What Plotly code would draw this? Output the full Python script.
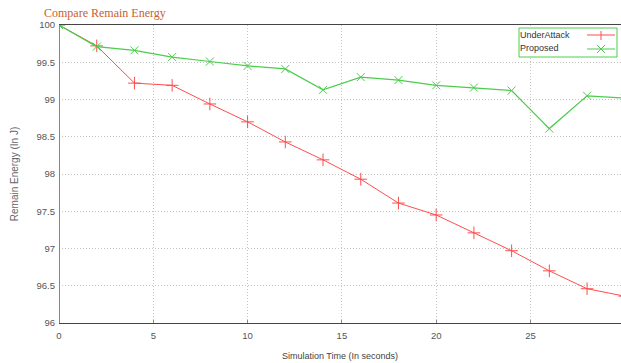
import plotly.graph_objects as go

time_s = [0, 2, 4, 6, 8, 10, 12, 14, 16, 18, 20, 22, 24, 26, 28, 30]
under_attack = [100.0, 99.72, 99.22, 99.19, 98.94, 98.70, 98.43, 98.19, 97.93, 97.61, 97.45, 97.21, 96.97, 96.70, 96.46, 96.36]
proposed = [100.0, 99.71, 99.66, 99.57, 99.51, 99.45, 99.41, 99.13, 99.30, 99.26, 99.19, 99.16, 99.12, 98.61, 99.05, 99.02]
x_ticks = [0, 5, 10, 15, 20, 25]
y_ticks = [96, 96.5, 97, 97.5, 98, 98.5, 99, 99.5, 100]

RED = "#ff4d4d"
GREEN = "#4ccc4c"
NARROW = "Liberation Sans Narrow, Arial Narrow, Liberation Sans, sans-serif"
TICKFONT = dict(family=NARROW, size=9.5, color="#555555")

W, H = 621, 363

fig = go.Figure()
fig.add_trace(go.Scatter(x=time_s, y=under_attack, mode="lines+markers", name="UnderAttack",
                         line=dict(color=RED, width=1),
                         marker=dict(symbol="cross-thin", size=9, line=dict(color=RED, width=1), color=RED)))
fig.add_trace(go.Scatter(x=time_s, y=proposed, mode="lines+markers", name="Proposed",
                         line=dict(color=GREEN, width=1.2),
                         marker=dict(symbol="x-thin", size=8, line=dict(color=GREEN, width=1), color=GREEN)))

fig.update_layout(
    width=W, height=H,
    margin=dict(l=59, r=0, t=25, b=40, autoexpand=False),
    paper_bgcolor="white", plot_bgcolor="white",
    showlegend=False,
    title=dict(text="Compare Remain Energy", x=44/W, xanchor="left", y=1 - 13/H, yanchor="middle",
               font=dict(family="Liberation Serif, Times New Roman, serif", size=12, color="#c8602f")),
)
fig.update_xaxes(range=[0, 29.8], tickvals=x_ticks, ticktext=[str(v) for v in x_ticks],
                 showgrid=True, gridcolor="#c4c4c4", griddash="1px,2px", gridwidth=1,
                 showline=True, linecolor="#444444", linewidth=1, mirror=True,
                 ticks="inside", ticklen=3, tickcolor="#888888", ticklabelstandoff=4,
                 zeroline=False, tickfont=TICKFONT, automargin=False,
                 title=dict(text="Simulation Time (In seconds)", standoff=12,
                            font=dict(family=NARROW, size=9, color="#444444")))
fig.update_yaxes(range=[96, 100], tickvals=y_ticks, ticktext=["96", "96.5", "97", "97.5", "98", "98.5", "99", "99.5", "100"],
                 showgrid=True, gridcolor="#c4c4c4", griddash="1px,2px", gridwidth=1,
                 showline=False, zeroline=False, tickfont=TICKFONT, ticks="", automargin=False,
                 ticklabelstandoff=3,
                 title=dict(text="Remain Energy (In J)", standoff=16,
                            font=dict(family="Liberation Sans, Arial, sans-serif", size=10, color="#666666")))

# blue left axis line
fig.add_shape(type="line", xref="x", yref="paper", x0=0, x1=0, y0=0, y1=1,
              line=dict(color="#3399ff", width=2))

# custom legend (text left, sample right), boxed; coordinates relative to plot area
fig.add_shape(type="rect", xref="paper", yref="paper", x0=(519-59)/562, x1=(617-59)/562,
              y0=1-(57-25)/298, y1=1-(28-25)/298, line=dict(color=GREEN, width=1), fillcolor="white")
legend_font = dict(family=NARROW, size=9, color="#333333")
fig.add_annotation(text="UnderAttack", xref="paper", yref="paper", x=(518-59)/562, y=1-(35-25)/298,
                   xanchor="left", yanchor="middle", showarrow=False, font=legend_font)
fig.add_annotation(text="Proposed", xref="paper", yref="paper", x=(518-59)/562, y=1-(48-25)/298,
                   xanchor="left", yanchor="middle", showarrow=False, font=legend_font)
for yy, col in [(35, RED), (49, GREEN)]:
    fig.add_shape(type="line", xref="paper", yref="paper", x0=(587-59)/562, x1=(615-59)/562,
                  y0=1-(yy-25)/298, y1=1-(yy-25)/298, line=dict(color=col, width=1))
# legend sample glyphs
fig.add_shape(type="line", xref="paper", yref="paper", x0=(601-59)/562, x1=(601-59)/562,
              y0=1-(31-25)/298, y1=1-(40-25)/298, line=dict(color=RED, width=1))
fig.add_shape(type="line", xref="paper", yref="paper", x0=(597-59)/562, x1=(605-59)/562,
              y0=1-(45-25)/298, y1=1-(53-25)/298, line=dict(color=GREEN, width=1))
fig.add_shape(type="line", xref="paper", yref="paper", x0=(597-59)/562, x1=(605-59)/562,
              y0=1-(53-25)/298, y1=1-(45-25)/298, line=dict(color=GREEN, width=1))

fig.write_html("out.html", config={"displayModeBar": False},
               post_script="document.body.style.margin='0';document.body.style.overflow='hidden';")
